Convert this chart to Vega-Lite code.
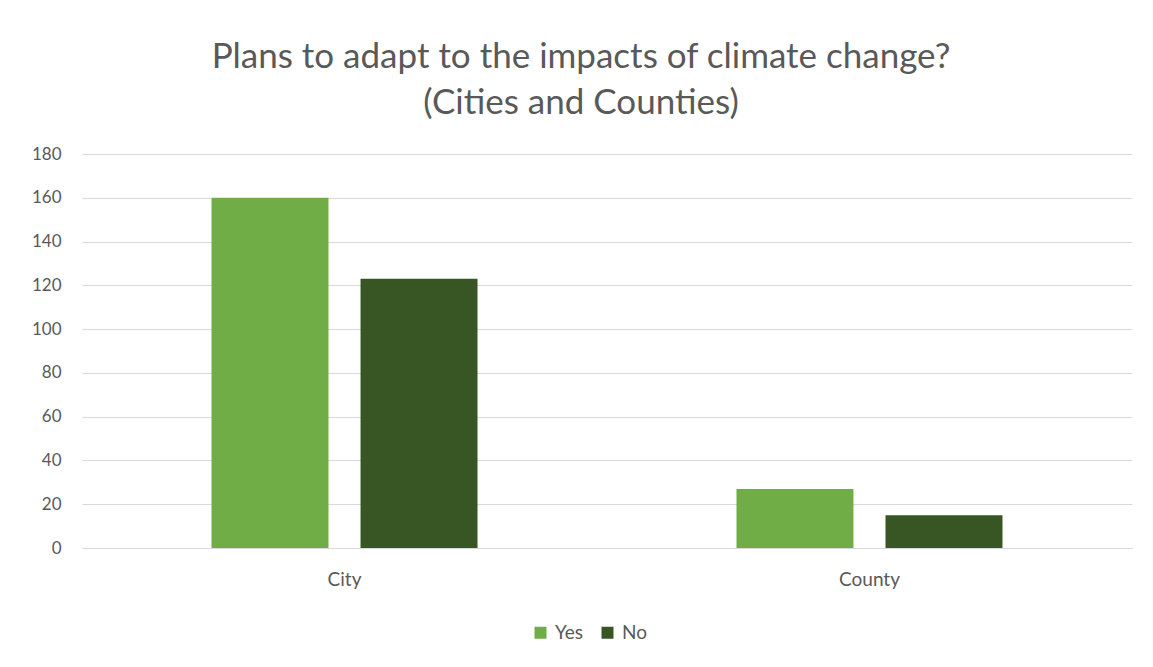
{
  "$schema": "https://vega.github.io/schema/vega-lite/v6.json",
  "autosize": {"type": "none"},
  "padding": {"left": 82, "top": 154, "right": 21, "bottom": 119},
  "width": 1050,
  "height": 394,
  "background": "white",
  "title": {
    "text": ["Plans to adapt to the impacts of climate change?", "(Cities and Counties)"],
    "font": "Lato",
    "fontSize": 35,
    "fontWeight": "normal",
    "color": "#595959",
    "anchor": "middle",
    "dx": -26,
    "offset": 24,
    "lineHeight": 46
  },
  "data": {
    "values": [
      {"type": "City", "answer": "Yes", "count": 160},
      {"type": "City", "answer": "No", "count": 123},
      {"type": "County", "answer": "Yes", "count": 27},
      {"type": "County", "answer": "No", "count": 15}
    ]
  },
  "mark": {"type": "bar"},
  "encoding": {
    "x": {
      "field": "type",
      "type": "nominal",
      "sort": ["City", "County"],
      "scale": {"paddingInner": 0.4933, "paddingOuter": 0.2467},
      "axis": {
        "title": null,
        "labelAngle": 0,
        "labelFont": "Lato",
        "labelFontSize": 19,
        "labelColor": "#595959",
        "labelPadding": 22,
        "ticks": false,
        "domainColor": "#d9d9d9",
        "domainWidth": 1
      }
    },
    "xOffset": {
      "field": "answer",
      "type": "nominal",
      "sort": ["Yes", "No"],
      "scale": {"paddingInner": 0.215, "paddingOuter": 0}
    },
    "y": {
      "field": "count",
      "type": "quantitative",
      "scale": {"domain": [0, 180], "nice": false},
      "axis": {
        "title": null,
        "values": [0, 20, 40, 60, 80, 100, 120, 140, 160, 180],
        "labelFont": "Lato",
        "labelFontSize": 17,
        "labelColor": "#595959",
        "labelPadding": 21,
        "ticks": false,
        "domain": false,
        "gridColor": "#d9d9d9",
        "gridWidth": 1
      }
    },
    "color": {
      "field": "answer",
      "type": "nominal",
      "sort": ["Yes", "No"],
      "scale": {"domain": ["Yes", "No"], "range": ["#70ad47", "#375623"]},
      "legend": {
        "title": null,
        "orient": "none",
        "legendX": 449,
        "legendY": 469,
        "direction": "horizontal",
        "symbolType": "square",
        "symbolSize": 144,
        "symbolStrokeWidth": 0,
        "labelFont": "Lato",
        "labelFontSize": 19,
        "labelColor": "#595959",
        "columnPadding": 14,
        "labelOffset": 5
      }
    }
  },
  "config": {"view": {"stroke": null}}
}
